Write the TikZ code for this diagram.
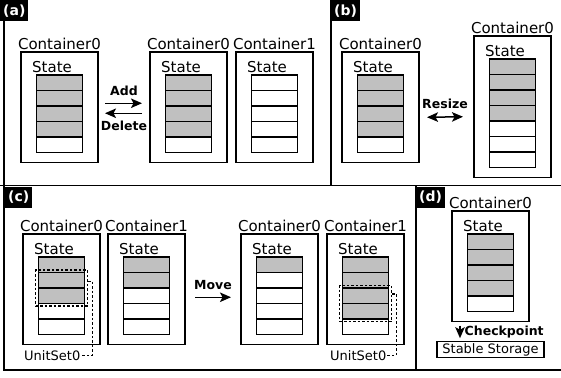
\documentclass[tikz,border=0pt]{standalone}
\usepackage{fontspec}
\setmainfont{DejaVu Sans}
\usetikzlibrary{arrows.meta, positioning, calc, fit}
\definecolor{unitgray}{RGB}{192,192,192}

% container with its state units: name, top left corner, title, units, filled units
\newcommand{\drawcontainer}[6]{%
  \node[ctrbox, minimum height={#5*15.5+33}, anchor=north west] (#1) at (#2,#3) {};
  \node[title] (#1-t) at ($(#1.north)+(0,-8.5)$) {#4};
  \node[title, anchor=west] (#1-s) at ($(#1.north west)+(11,15)$) {State};
  \foreach \k in {1,...,#5}{%
    \ifnum\k>#6 \def\cellfill{white}\else\def\cellfill{unitgray}\fi
    \node[cell, fill=\cellfill, anchor=north west] (#1-\k) at ($(#1.north west)+(15.5,{23+(\k-1)*15.5})$) {};
  }%
}

\begin{document}
\begin{tikzpicture}[x=1pt, y=-1pt,
  >={Stealth[length=11pt, width=9.5pt, inset=2.5pt]},
  ctrbox/.style={draw, line width=1.1pt, minimum width=77pt, inner sep=0pt, outer sep=0pt},
  cell/.style={draw, line width=1.2pt, minimum width=46pt, minimum height=15.5pt, inner sep=0pt, outer sep=0pt},
  title/.style={inner sep=0pt, font=\fontsize{15}{17}\selectfont},
  small/.style={inner sep=1pt, font=\fontsize{13}{15}\selectfont},
  op/.style={inner sep=0pt, font=\fontsize{12.5}{14}\selectfont\bfseries},
  tag/.style={fill=black, text=white, anchor=north west, inner xsep=3pt, inner ysep=2pt, minimum height=21pt, font=\fontsize{14}{16}\selectfont\bfseries},
  frame/.style={line width=1.3pt},
  arr/.style={line width=1.5pt, ->},
  unitset/.style={draw, line width=1.2pt, dash pattern=on 2.5pt off 2pt, inner xsep=3pt, inner ysep=2.5pt},
  unitline/.style={line width=1.2pt, dash pattern=on 2.5pt off 2pt}
]
  \useasboundingbox (0,0) rectangle (561,377);

  % panel frames
  \draw[frame] (4,0) -- (4,370) -- (561,370);
  \draw[frame] (0,185.5) -- (561,185.5);
  \draw[frame] (331,0) -- (331,185.5);
  \draw[frame] (416,185.5) -- (416,370);

  % (a)
  \drawcontainer{a0}{21}{52}{Container0}{5}{4}
  \drawcontainer{a0b}{150}{52}{Container0}{5}{4}
  \drawcontainer{a1}{236}{52}{Container1}{5}{0}
  \node[op] (add) at (124,91) {Add};
  \node[op] (del) at (124,125.5) {Delete};
  \draw[arr] ([shift={(7pt,4pt)}]a0.east) -- ([shift={(-8pt,4pt)}]a0b.west);
  \draw[arr] ([shift={(-8pt,-6pt)}]a0b.west) -- ([shift={(7pt,-6pt)}]a0.east);

  % (b)
  \drawcontainer{b0}{342}{52}{Container0}{5}{4}
  \drawcontainer{b0b}{474}{36}{Container0}{7}{4}
  \node[op] (resize) at (445,103.5) {Resize};
  \draw[arr, <->] ([shift={(8pt,-10pt)}]b0.east) -- ([shift={(-11pt,-10pt)}]b0b.west);

  % (c)
  \drawcontainer{c0}{23}{234}{Container0}{5}{3}
  \drawcontainer{c1}{108}{234}{Container1}{5}{2}
  \drawcontainer{c0b}{241}{234}{Container0}{5}{1}
  \drawcontainer{c1b}{327}{234}{Container1}{5}{4}
  \node[op] (move) at (213,285) {Move};
  \draw[arr] ([shift={(10pt,-8pt)}]c1.east) -- ([shift={(-10pt,-8pt)}]c0b.west);

  \node[unitset, fit=(c0-2)(c0-3)] (us0) {};
  \node[small, anchor=west] (us0-l) at ($(c0.south west)+(0,11)$) {UnitSet0};
  \draw[unitline] ([yshift=-12pt]us0.north east) -- ++(4,0) |- (us0-l.east);

  \node[unitset, fit=(c1b-3)(c1b-4)] (us1) {};
  \node[small, anchor=west] (us1-l) at ($(c1b.south west)+(2,11)$) {UnitSet0};
  \draw[unitline] ([yshift=-9pt]us1.north east) -- ++(4,0) |- (us1-l.east);

  % (d)
  \drawcontainer{d0}{452}{211}{Container0}{5}{4}
  \node[small, draw, line width=1.1pt, minimum width=107pt, minimum height=15.5pt, inner sep=0pt] (stable) at (490.5,349.5) {Stable Storage};
  \draw[arr] ([shift={(-30.5pt,-4pt)}]d0.south) -- ([shift={(-30.5pt,3pt)}]stable.north);
  \node[op, anchor=west] (ckpt) at (464.5,332) {Checkpoint};

  % panel tags
  \node[tag] (tagA) at (0,0) {(a)};
  \node[tag] (tagB) at (331,0) {(b)};
  \node[tag] (tagC) at (5,186.5) {(c)};
  \node[tag] (tagD) at (416,186.5) {(d)};
\end{tikzpicture}
\end{document}
